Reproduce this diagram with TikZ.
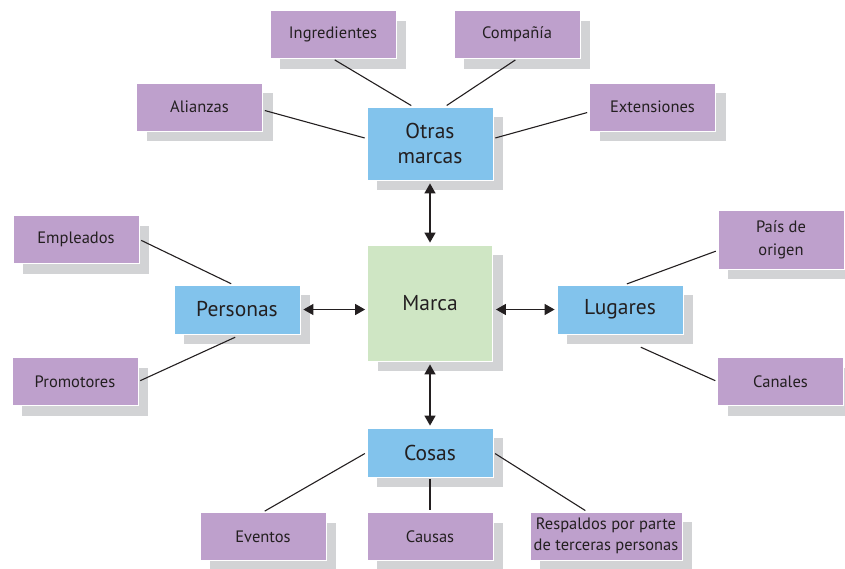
\documentclass[tikz,border=0pt]{standalone}
\usepackage{fontspec}
\setmainfont{PT Sans}
\usetikzlibrary{shapes,arrows.meta,positioning,calc,shadows}
\definecolor{lila}{RGB}{190,160,204}
\definecolor{celeste}{RGB}{130,195,236}
\definecolor{verde}{RGB}{207,230,196}
\definecolor{sombra}{RGB}{210,211,213}
\definecolor{tinta}{RGB}{35,31,32}

\begin{document}
\begin{tikzpicture}[x=1pt, y=-1pt,
    caja/.style={draw=white, line width=0.8pt, text=tinta, align=center, inner sep=2pt,
        drop shadow={shadow xshift=10pt, shadow yshift=-10pt, fill=sombra, opacity=1}},
    hoja/.style={caja, fill=lila, minimum width=126pt, minimum height=48pt, font=\fontsize{16.5}{21}\selectfont},
    rama/.style={caja, fill=celeste, minimum width=126pt, minimum height=49pt, font=\fontsize{21.5}{25}\selectfont},
    enlace/.style={draw=tinta, line width=1.1pt, shorten <=2pt, shorten >=2pt},
    flecha/.style={draw=tinta, line width=1.4pt, {Triangle[length=10pt,width=11pt]}-{Triangle[length=10pt,width=11pt]}, shorten <=3pt, shorten >=2pt}]
    \useasboundingbox (0,0) rectangle (845,568);

    % centro y ramas
    \node[rama, fill=verde, minimum width=125pt, minimum height=116pt] (marca) at (430,303) {Marca};
    \node[rama, minimum height=73pt] (otras) at (430,143.5) {Otras\\marcas};
    \node[rama] (personas) at (237,309.5) {Personas};
    \node[rama] (lugares) at (620,309.5) {Lugares};
    \node[rama] (cosas) at (430,452.5) {Cosas};

    % hojas
    \node[hoja] (ingredientes) at (333,34.5) {Ingredientes};
    \node[hoja] (compania) at (517,34.5) {Compañía};
    \node[hoja] (alianzas) at (199.5,107) {Alianzas};
    \node[hoja] (extensiones) at (652.5,107) {Extensiones};
    \node[hoja] (empleados) at (76,239.5) {Empleados};
    \node[hoja] (promotores) at (75,381.5) {Promotores};
    \node[hoja, minimum height=59pt, font=\fontsize{16.5}{23}\selectfont] (pais) at (781,239.5) {País de\\origen};
    \node[hoja] (canales) at (780.5,381.5) {Canales};
    \node[hoja] (eventos) at (263,536.5) {Eventos};
    \node[hoja] (causas) at (430,536.5) {Causas};
    \node[hoja, minimum width=152pt] (respaldos) at (606,536) {Respaldos por parte\\de terceras personas};

    % enlaces
    \draw[enlace] (ingredientes.south) -- ([shift={(-17,0)}]otras.north);
    \draw[enlace] (compania.south) -- ([shift={(15,0)}]otras.north);
    \draw[enlace] ([shift={(0,3)}]alianzas.east) -- ([shift={(0,-5)}]otras.west);
    \draw[enlace] ([shift={(0,5)}]extensiones.west) -- ([shift={(0,-5)}]otras.east);
    \draw[enlace] (empleados.east) -- ([shift={(-4,0)}]personas.north);
    \draw[enlace] (promotores.east) -- ([shift={(0,2)}]personas.south);
    \draw[enlace] ([shift={(5,0)}]lugares.north) -- ([shift={(0,11)}]pais.west);
    \draw[enlace] ([shift={(19,12)}]lugares.south) -- (canales.west);
    \draw[enlace] (eventos.north) -- (cosas.west);
    \draw[enlace] (cosas.south) -- (causas.north);
    \draw[enlace] (cosas.east) -- ([shift={(-19,0)}]respaldos.north);

    % flechas
    \draw[flecha] (otras.south) -- (marca.north);
    \draw[flecha] (personas.east) -- (personas.east -| marca.west);
    \draw[flecha] (lugares.west -| marca.east) -- (lugares.west);
    \draw[flecha] (marca.south) -- (cosas.north);
\end{tikzpicture}
\end{document}
